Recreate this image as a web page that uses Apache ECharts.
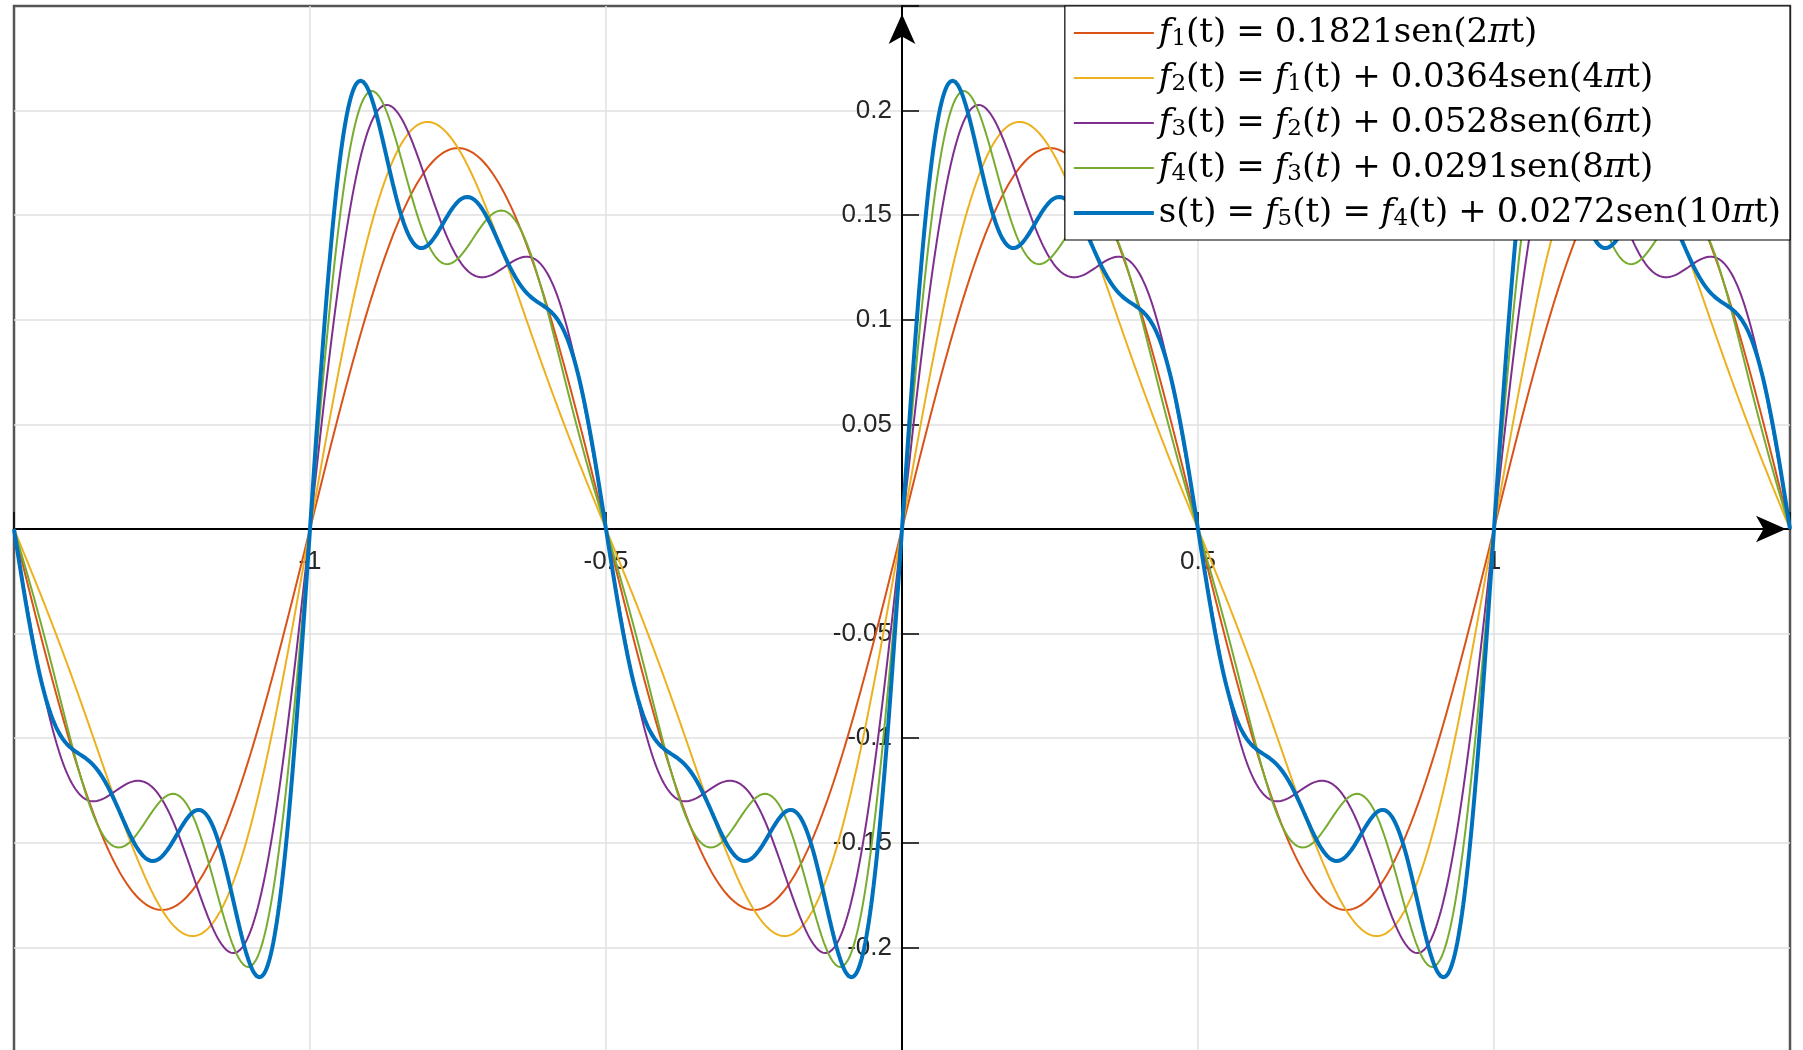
<!DOCTYPE html>
<html>
<head>
<meta charset="utf-8">
<script src="https://cdn.jsdelivr.net/npm/echarts@6/dist/echarts.min.js"></script>
<style>
  html, body { margin: 0; padding: 0; background: #fff; }
  #chart { width: 1803px; height: 1050px; }
</style>
</head>
<body>
<div id="chart"></div>
<script>
// Partial sums of a sine series: f_n(t) = sum_{k<=n} a_k sen(2*pi*k*t)
const harmonics = [1, 2, 3, 4, 5];
const amplitudes = [0.1821, 0.0364, 0.0528, 0.0291, 0.0272];
const seriesNames = ['f1', 'f2', 'f3', 'f4', 's'];
const seriesColors = ['#D95319', '#EDB120', '#7E2F8E', '#77AC30', '#0072BD'];
const seriesWidths = [2, 2, 2, 2, 4];
const legendLabels = [
  '{it|f}{sub|1}(t){op|=}0.1821sen(2{it|π}t)',
  '{it|f}{sub|2}(t){op|=}{it|f}{sub|1}(t){op|+}0.0364sen(4{it|π}t)',
  '{it|f}{sub|3}(t){op|=}{it|f}{sub|2}({it|t}){op|+}0.0528sen(6{it|π}t)',
  '{it|f}{sub|4}(t){op|=}{it|f}{sub|3}({it|t}){op|+}0.0291sen(8{it|π}t)',
  's(t){op|=}{it|f}{sub|5}(t){op|=}{it|f}{sub|4}(t){op|+}0.0272sen(10{it|π}t)'
];
const xTickLabels = [-1, -0.5, 0.5, 1];
const yTickLabels = [-0.2, -0.15, -0.1, -0.05, 0.05, 0.1, 0.15, 0.2];
const tStart = -1.5, tEnd = 1.5, sampleCount = 1500;
const yMin = -0.25, yMax = 0.25;

// sample the time axis and accumulate each harmonic onto the previous sum
const tValues = [];
for (let i = 0; i <= sampleCount; i++) tValues.push(tStart + (tEnd - tStart) * i / sampleCount);

const partialSums = [];
let running = tValues.map(() => 0);
harmonics.forEach((k, idx) => {
  running = running.map((v, i) => v + amplitudes[idx] * Math.sin(2 * Math.PI * k * tValues[i]));
  partialSums.push(running.slice());
});

const round2 = v => Math.round(v * 100) / 100;
const serif = 'DejaVu Serif';
const sans = 'Liberation Sans';
const legendFont = 34;

// plot box in pixels; the axes are shifted inwards so they cross at the origin
const W = 1803, H = 1050;
const box = { left: 14, right: 13, top: 6, bottom: -2 };
const boxW = W - box.left - box.right;
const boxH = H - box.top - box.bottom;
const xZeroShift = boxH * (0 - yMin) / (yMax - yMin);       // from bottom edge up to y = 0
const yZeroShift = boxW * (0 - tStart) / (tEnd - tStart);   // from left edge right to t = 0

const gridLineStyle = { color: '#e0e0e0', width: 1.5 };

const chart = echarts.init(document.getElementById('chart'), null, { renderer: 'canvas' });

chart.setOption({
  animation: false,
  backgroundColor: '#fff',
  color: seriesColors,
  grid: {
    left: box.left, right: box.right, top: box.top, bottom: box.bottom,
    outerBoundsMode: 'none', containLabel: false,
    show: true, borderColor: '#555', borderWidth: 2.5, backgroundColor: 'transparent'
  },
  legend: {
    orient: 'vertical', right: 13, top: 6,
    backgroundColor: '#fff', borderColor: '#000', borderWidth: 1.2,
    padding: [9, 9, 9, 7], itemGap: 9, itemWidth: 80, itemHeight: 14,
    selectedMode: false,
    itemStyle: { color: 'rgba(0,0,0,0)', borderColor: 'rgba(0,0,0,0)', borderWidth: 0 },
    data: seriesNames.map((name, idx) => ({
      name: name,
      lineStyle: { color: seriesColors[idx], width: seriesWidths[idx] }
    })),
    formatter: name => legendLabels[seriesNames.indexOf(name)],
    textStyle: {
      fontFamily: serif, fontSize: legendFont, color: '#000', lineHeight: 36,
      rich: {
        it: { fontFamily: serif, fontSize: legendFont, fontStyle: 'italic', color: '#000', lineHeight: 36 },
        sub: { fontFamily: serif, fontSize: 23, color: '#000', lineHeight: 16, verticalAlign: 'bottom' },
        op: { fontFamily: serif, fontSize: legendFont, color: '#000', lineHeight: 36, padding: [0, 10, 0, 10] }
      }
    }
  },
  xAxis: {
    type: 'value', min: tStart, max: tEnd, interval: 0.5,
    position: 'bottom', offset: -xZeroShift,
    axisLine: {
      onZero: false,
      lineStyle: { color: '#000', width: 2 },
      symbol: ['none', 'arrow'], symbolSize: [20, 30], symbolOffset: [0, -4]
    },
    axisTick: { inside: true, length: 17, lineStyle: { color: '#000', width: 1.5 } },
    axisLabel: {
      fontFamily: sans, fontSize: 26, color: '#262626', margin: 20,
      showMinLabel: true, showMaxLabel: true, hideOverlap: false,
      formatter: v => (xTickLabels.includes(round2(v)) ? String(round2(v)) : '')
    },
    splitLine: { show: true, showMinLine: false, showMaxLine: false, lineStyle: gridLineStyle }
  },
  yAxis: {
    type: 'value', min: yMin, max: yMax, interval: 0.05,
    position: 'left', offset: -yZeroShift,
    axisLine: {
      onZero: false,
      lineStyle: { color: '#000', width: 2 },
      symbol: ['none', 'arrow'], symbolSize: [20, 30], symbolOffset: [0, -8]
    },
    axisTick: { inside: true, length: 17, lineStyle: { color: '#000', width: 1.5 } },
    axisLabel: {
      fontFamily: sans, fontSize: 26, color: '#262626', margin: 10,
      showMinLabel: true, showMaxLabel: true, hideOverlap: false,
      formatter: v => (yTickLabels.includes(round2(v)) ? String(round2(v)) : '')
    },
    splitLine: { show: true, showMinLine: false, showMaxLine: false, lineStyle: gridLineStyle }
  },
  series: seriesNames.map((name, idx) => ({
    name: name,
    type: 'line',
    symbol: 'none',
    showSymbol: false,
    lineStyle: { color: seriesColors[idx], width: seriesWidths[idx] },
    itemStyle: { color: seriesColors[idx] },
    data: tValues.map((t, i) => [t, partialSums[idx][i]])
  }))
});
</script>
</body>
</html>
